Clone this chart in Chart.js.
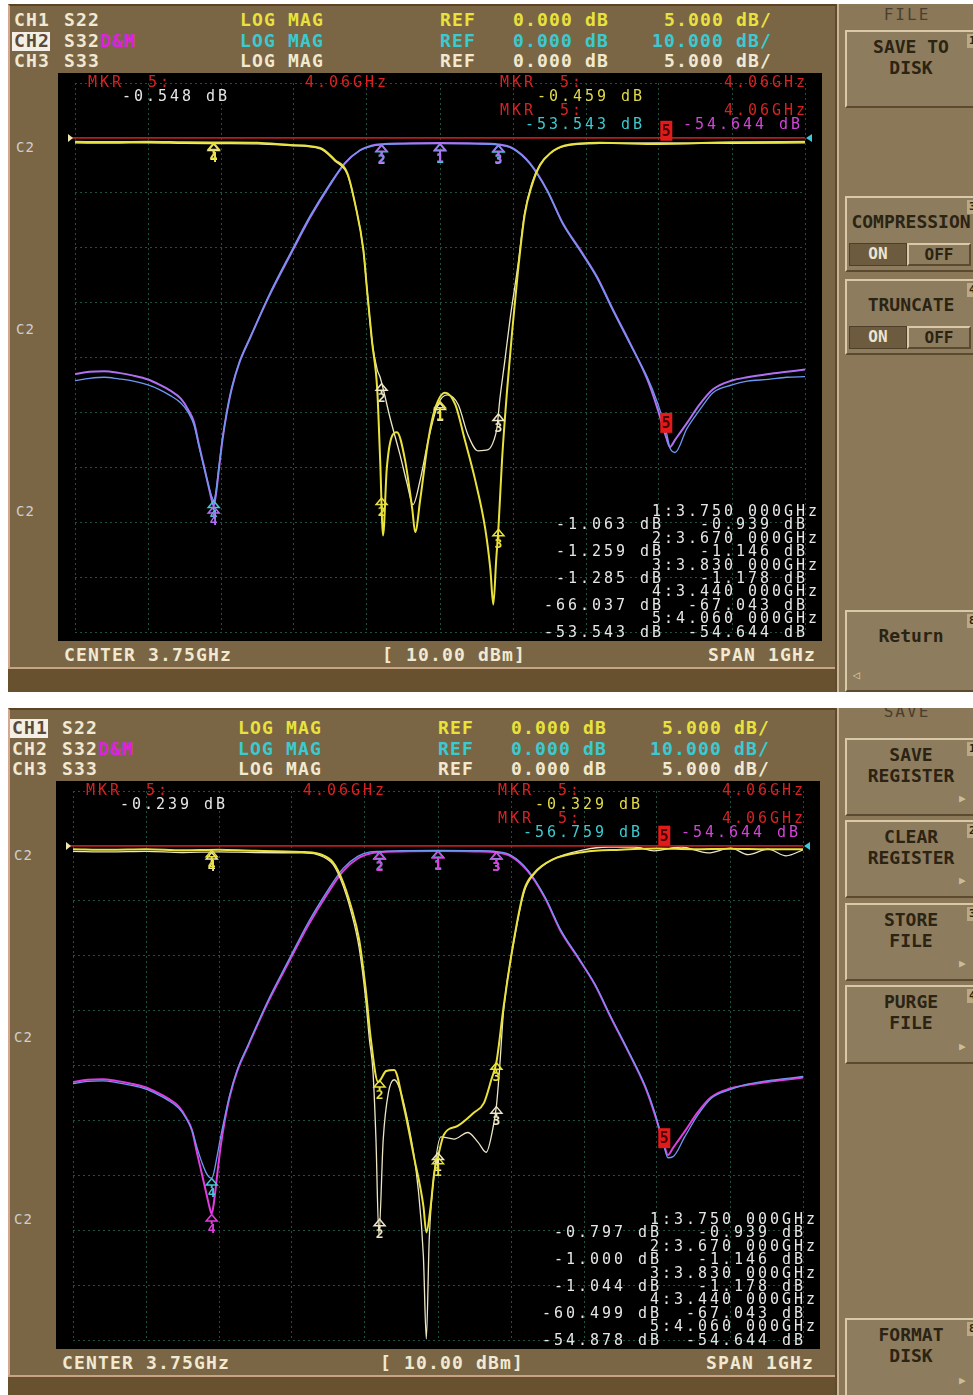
<!DOCTYPE html>
<html>
<head>
<meta charset="utf-8">
<title>S22 / S32 / S33 LOG MAG</title>
<script src="https://cdn.jsdelivr.net/npm/chart.js@4.4.1/dist/chart.umd.min.js"></script>
<style>
  body { margin: 0; width: 973px; height: 1395px; background: #fff; position: relative; overflow: hidden;
         font-family: "DejaVu Sans Mono", "Liberation Mono", monospace; }
  div { position: absolute; box-sizing: border-box; white-space: pre; }
  .frame { background: #7a6645; border-left: 2px solid #d6a690; border-top: 2px solid #5c4326; border-right: 3px solid #5e4a2e; }
  .band { background: #67512f; border-top: 2px solid #c7a484; }
  .side { background: #8a7858; border-left: 2px solid #cbb594; overflow: hidden; }
  .plot { background: #000; }
  .hdr { font-weight: bold; font-size: 18px; letter-spacing: 1.17px; line-height: 20px; }
  .ro { font-size: 15px; letter-spacing: 2.97px; line-height: 14px; }
  .c2 { font-size: 14px; letter-spacing: 1px; line-height: 14px; color: #cfcfcf; }
  .btn { background: #8d7c5d; border: 2px solid; border-color: #dac9a8 #5b4a30 #5b4a30 #dac9a8; }
  .bt { font-weight: bold; font-size: 18px; color: #2b2313; line-height: 21px; text-align: center; }
  .tog { font-weight: bold; font-size: 16px; line-height: 20px; text-align: center; }
</style>
</head>
<body>
<script>
/* Two network-analyser screens (filter S22 / S32 / S33), redrawn with Chart.js. */

// sweep and scale, as shown on screen
const CENTER_GHZ = 3.75;
const SPAN_GHZ = 1;
const X_MIN = CENTER_GHZ - SPAN_GHZ / 2;
const X_MAX = CENTER_GHZ + SPAN_GHZ / 2;
const DIVS = 10;
const REF_DIV = 9;          // ref line one division below the top
const DB_DIV_REFL = 5;      // CH1 S22, CH3 S33
const DB_DIV_TRANS = 10;    // CH2 S32

// header rows
const CH_NAMES = ['CH1', 'CH2', 'CH3'];
const CH_PARAMS = ['S22', 'S32', 'S33'];
const CH_FORMATS = ['LOG MAG', 'LOG MAG', 'LOG MAG'];
const CH_REFS = ['0.000 dB', '0.000 dB', '0.000 dB'];
const CH_SCALES = ['5.000 dB/', '10.000 dB/', '5.000 dB/'];

// markers
const MARKER_NUMS = ['1', '2', '3', '4', '5'];
const MARKER_GHZ = [3.750, 3.670, 3.830, 3.440, 4.060];
const MEM_MKR_DB = [-0.939, -1.146, -1.178, -67.043, -54.644];
const P1_DATA_MKR_DB = [-1.063, -1.259, -1.285, -66.037, -53.543];
const P2_DATA_MKR_DB = [-0.797, -1.000, -1.044, -60.499, -54.878];
const P1_MKR5_TEXT = ['-0.548 dB', '-0.459 dB', '-53.543 dB', '-54.644 dB'];
const P2_MKR5_TEXT = ['-0.239 dB', '-0.329 dB', '-56.759 dB', '-54.644 dB'];

// S32 (memory trace is the same stored trace on both screens)
const S32_GHZ = [3.250, 3.270, 3.290, 3.310, 3.330, 3.350, 3.365, 3.380, 3.395, 3.405,
  3.413, 3.420, 3.427, 3.433, 3.437, 3.440, 3.443, 3.447, 3.452, 3.458,
  3.465, 3.475, 3.490, 3.517, 3.545, 3.572, 3.599, 3.620, 3.640, 3.657,
  3.670, 3.700, 3.750, 3.800, 3.830, 3.850, 3.873, 3.897, 3.918, 3.942,
  3.965, 3.987, 4.010, 4.034, 4.047, 4.060, 4.065, 4.072, 4.088, 4.106,
  4.124, 4.150, 4.171, 4.200, 4.225, 4.250];
const S32_MEM_DB = [-43.0, -42.6, -42.5, -42.8, -43.3, -44.0, -44.9, -46.0, -47.5, -49.5,
  -51.8, -56.0, -60.0, -63.5, -65.8, -67.0, -65.0, -60.5, -55.0, -50.0,
  -45.5, -41.0, -36.4, -28.5, -21.3, -14.5, -8.6, -4.6, -2.3, -1.4,
  -1.15, -1.0, -0.94, -1.0, -1.18, -1.9, -4.6, -9.6, -15.5, -20.4,
  -25.3, -31.3, -37.3, -44.0, -48.9, -54.6, -56.3, -55.0, -52.0, -48.5,
  -45.8, -44.2, -43.6, -43.0, -42.6, -42.2];
const P1_S32_DB = [-44.2, -43.8, -43.6, -43.9, -44.3, -45.0, -45.8, -46.9, -48.3, -50.0,
  -52.3, -56.3, -60.2, -63.3, -65.2, -66.0, -64.5, -60.0, -54.8, -49.9,
  -45.4, -40.9, -36.3, -28.3, -21.0, -14.2, -8.4, -4.5, -2.3, -1.5,
  -1.26, -1.1, -1.06, -1.1, -1.29, -2.0, -4.7, -9.7, -15.6, -20.6,
  -25.5, -31.5, -37.5, -43.6, -47.9, -53.5, -56.5, -57.3, -53.0, -49.5,
  -46.4, -45.0, -44.3, -44.0, -43.6, -43.5];
const P2_S32_DB = [-43.3, -42.9, -42.8, -43.1, -43.6, -44.3, -45.2, -46.3, -47.8, -49.6,
  -51.8, -55.0, -57.8, -59.7, -60.4, -60.5, -59.5, -56.8, -53.2, -49.3,
  -45.2, -40.8, -36.2, -28.2, -20.9, -14.0, -8.1, -4.1, -1.9, -1.1,
  -1.0, -0.85, -0.8, -0.86, -1.04, -1.7, -4.4, -9.4, -15.3, -20.3,
  -25.2, -31.2, -37.2, -43.8, -48.6, -54.9, -56.8, -56.6, -53.0, -49.0,
  -46.0, -44.4, -43.5, -42.8, -42.4, -42.0];

// screen 1 reflection traces
const P1_S22_GHZ = [3.250, 3.300, 3.350, 3.400, 3.450, 3.500, 3.545, 3.586, 3.606, 3.623,
  3.634, 3.645, 3.650, 3.657, 3.664, 3.668, 3.672, 3.677, 3.684, 3.691,
  3.702, 3.712, 3.716, 3.723, 3.734, 3.743, 3.757, 3.771, 3.784, 3.798,
  3.812, 3.819, 3.823, 3.827, 3.830, 3.835, 3.842, 3.849, 3.857, 3.866,
  3.876, 3.887, 3.901, 3.921, 3.969, 4.050, 4.150, 4.250];
const P1_S22_DB = [-0.35, -0.38, -0.36, -0.40, -0.42, -0.45, -0.64, -0.91, -2.0, -3.2,
  -6.1, -10.2, -13.8, -18.6, -22.9, -29.3, -36.2, -30.2, -27.2, -26.8,
  -29.3, -33.8, -35.9, -32.9, -27.5, -24.7, -23.2, -24.3, -27.5, -31.1,
  -35.6, -39.3, -42.5, -38.4, -35.6, -29.3, -22.9, -17.5, -12.0, -7.0,
  -4.3, -2.5, -1.4, -0.7, -0.45, -0.55, -0.40, -0.36];
const P1_S33_GHZ = [3.250, 3.300, 3.350, 3.400, 3.450, 3.500, 3.545, 3.586, 3.606, 3.623,
  3.634, 3.645, 3.650, 3.657, 3.664, 3.668, 3.682, 3.695, 3.705, 3.713,
  3.723, 3.734, 3.747, 3.760, 3.775, 3.788, 3.802, 3.816, 3.824, 3.828,
  3.832, 3.839, 3.846, 3.857, 3.866, 3.876, 3.887, 3.901, 3.921, 3.969,
  4.050, 4.150, 4.250];
const P1_S33_DB = [-0.45, -0.48, -0.44, -0.50, -0.52, -0.55, -0.70, -1.0, -2.1, -3.3,
  -6.1, -10.2, -13.8, -18.6, -21.1, -21.8, -25.6, -28.8, -31.5, -33.4,
  -31.1, -27.5, -24.3, -23.4, -24.3, -27.0, -28.5, -28.4, -27.5, -26.4,
  -23.8, -20.2, -16.5, -11.5, -6.8, -4.1, -2.4, -1.4, -0.75, -0.5,
  -0.46, -0.5, -0.45];

// screen 2 reflection traces
const P2_S22_GHZ = [3.250, 3.300, 3.350, 3.400, 3.450, 3.500, 3.562, 3.603, 3.617, 3.631,
  3.642, 3.651, 3.658, 3.668, 3.679, 3.690, 3.703, 3.717, 3.730, 3.734,
  3.740, 3.745, 3.750, 3.758, 3.777, 3.799, 3.813, 3.823, 3.830, 3.840,
  3.854, 3.868, 3.882, 3.906, 3.950, 4.000, 4.050, 4.100, 4.150, 4.200,
  4.250];
const P2_S22_DB = [-0.3, -0.35, -0.3, -0.4, -0.35, -0.45, -0.55, -1.27, -2.82, -5.55,
  -8.55, -13.1, -17.6, -21.5, -20.5, -20.4, -23.7, -28.3, -32.8, -35.2,
  -32.8, -29.7, -28.3, -26.3, -25.5, -24.3, -23.4, -21.3, -19.7, -14.6,
  -8.55, -4.0, -2.45, -1.27, -0.55, -0.35, -0.24, -0.3, -0.25, -0.3,
  -0.3];
const P2_S33_GHZ = [3.250, 3.300, 3.350, 3.400, 3.450, 3.500, 3.562, 3.603, 3.617, 3.631,
  3.642, 3.651, 3.656, 3.661, 3.665, 3.669, 3.675, 3.682, 3.690, 3.709,
  3.723, 3.730, 3.734, 3.738, 3.745, 3.754, 3.772, 3.791, 3.805, 3.816,
  3.825, 3.830, 3.834, 3.840, 3.854, 3.868, 3.882, 3.906, 3.950, 3.983,
  4.019, 4.046, 4.083, 4.120, 4.151, 4.175, 4.202, 4.227, 4.250];
const P2_S33_DB = [-0.5, -0.55, -0.5, -0.6, -0.55, -0.6, -0.64, -1.45, -3.1, -6.0,
  -9.3, -14.0, -17.6, -20.6, -26.7, -35.4, -26.7, -22.5, -21.3, -25.2,
  -31.3, -37.4, -44.9, -35.8, -29.7, -26.5, -26.7, -26.1, -27.0, -27.9,
  -25.8, -23.7, -20.6, -14.9, -8.7, -4.2, -2.55, -1.27, -0.36, -0.1,
  -0.1, -0.45, -0.1, -0.64, -0.2, -0.8, -0.3, -0.9, -0.36];

const P1_SOFTKEYS = [
  { y: 30, h: 78, lines: ['SAVE TO', 'DISK'], tag: '1' },
  { y: 196, h: 76, lines: ['COMPRESSION'], tag: '3', toggle: true },
  { y: 279, h: 76, lines: ['TRUNCATE'], tag: '4', toggle: true },
  { y: 610, h: 82, lines: ['Return'], tag: '8', back: true },
];
const P2_SOFTKEYS = [
  { y: 738, h: 78, lines: ['SAVE', 'REGISTER'], tag: '1', more: true },
  { y: 820, h: 78, lines: ['CLEAR', 'REGISTER'], tag: '2', more: true },
  { y: 903, h: 78, lines: ['STORE', 'FILE'], tag: '3', more: true },
  { y: 985, h: 79, lines: ['PURGE', 'FILE'], tag: '4', more: true },
  { y: 1318, h: 80, lines: ['FORMAT', 'DISK'], tag: '8', more: true },
];

const COL = {
  s22: '#e9e23c', s33: '#ece6c4', data: '#6c98f2', mem: '#d444e4',
  cyanTxt: '#3ccad2', red: '#d62222', cream: '#f1e9d2', grid: '#1f4f3e',
};

const PANELS = [
  { dy: 0, dx: 0, top: 4, h: 688, active: 1, title: 'FILE', mkr5: P1_MKR5_TEXT,
    s22: [P1_S22_GHZ, P1_S22_DB], s33: [P1_S33_GHZ, P1_S33_DB], data: P1_S32_DB,
    dataMkr: P1_DATA_MKR_DB, memCol: '#b070f4', keys: P1_SOFTKEYS },
  { dy: 708, dx: -2, top: 708, h: 687, active: 0, title: 'SAVE', mkr5: P2_MKR5_TEXT,
    s22: [P2_S22_GHZ, P2_S22_DB], s33: [P2_S33_GHZ, P2_S33_DB], data: P2_S32_DB,
    dataMkr: P2_DATA_MKR_DB, memCol: '#e23ce0', keys: P2_SOFTKEYS },
];

function el(cls, x, y, w, h, parent) {
  const d = document.createElement('div');
  if (cls) d.className = cls;
  d.style.left = x + 'px';
  d.style.top = y + 'px';
  if (w != null) d.style.width = w + 'px';
  if (h != null) d.style.height = h + 'px';
  (parent || document.body).appendChild(d);
  return d;
}

function txt(cls, x, yc, s, color, lh, right) {
  const d = el(cls, x, yc - lh / 2);
  d.textContent = s;
  d.style.color = color;
  if (right) { d.style.left = ''; d.style.right = (973 - x) + 'px'; }
  return d;
}

function interp(xs, ys, x) {
  for (let i = 1; i < xs.length; i++) {
    if (x <= xs[i]) {
      const t = (x - xs[i - 1]) / (xs[i] - xs[i - 1]);
      return ys[i - 1] + t * (ys[i] - ys[i - 1]);
    }
  }
  return ys[ys.length - 1];
}

function divTicks(scale) {
  const ticks = [];
  for (let i = 0; i <= DIVS; i++) ticks.push({ value: scale.min + i * (scale.max - scale.min) / DIVS });
  scale.ticks = ticks;
}

function drawMarker(ctx, x, y, label, color) {
  ctx.strokeStyle = color;
  ctx.fillStyle = color;
  ctx.lineWidth = 1.5;
  ctx.beginPath();
  ctx.moveTo(x, y + 0.5);
  ctx.lineTo(x + 5.5, y + 7);
  ctx.lineTo(x - 5.5, y + 7);
  ctx.closePath();
  ctx.stroke();
  ctx.fillRect(x - 1, y + 7, 2, 3);
  ctx.font = 'bold 13px "DejaVu Sans Mono"';
  ctx.textAlign = 'center';
  ctx.textBaseline = 'top';
  ctx.fillText(label, x, y + 9);
}

function drawActive(ctx, x, y, label) {
  ctx.fillStyle = '#e21a1a';
  ctx.fillRect(x - 6, y - 21, 12, 20);
  ctx.fillStyle = '#4a0000';
  ctx.font = 'bold 15px "DejaVu Sans Mono"';
  ctx.textAlign = 'center';
  ctx.textBaseline = 'middle';
  ctx.fillText(label, x, y - 10);
}

function decorPlugin(p) {
  return {
    id: 'vnaDecor',
    afterDatasetsDraw(chart) {
      const { ctx, chartArea: a } = chart;
      const sx = chart.scales.x, sy = chart.scales.y, sy2 = chart.scales.y2;
      const yRef = sy.getPixelForValue(0);
      ctx.save();
      ctx.strokeStyle = '#b81c1c';
      ctx.lineWidth = 1.6;
      ctx.beginPath();
      ctx.moveTo(a.left - 3, yRef);
      ctx.lineTo(a.right, yRef);
      ctx.stroke();
      // reference position arrows
      ctx.fillStyle = '#ece6b0';
      ctx.beginPath();
      ctx.moveTo(a.left - 7, yRef - 4); ctx.lineTo(a.left - 2, yRef); ctx.lineTo(a.left - 7, yRef + 4);
      ctx.closePath(); ctx.fill();
      ctx.fillStyle = '#3cc8d8';
      ctx.beginPath();
      ctx.moveTo(a.right + 7, yRef - 4); ctx.lineTo(a.right + 1, yRef); ctx.lineTo(a.right + 7, yRef + 4);
      ctx.closePath(); ctx.fill();

      for (let i = 0; i < 4; i++) {
        const px = sx.getPixelForValue(MARKER_GHZ[i]);
        drawMarker(ctx, px, sy2.getPixelForValue(p.dataMkr[i]), MARKER_NUMS[i], '#48c6d8');
        drawMarker(ctx, px, sy2.getPixelForValue(MEM_MKR_DB[i]), MARKER_NUMS[i], p.memCol);
        drawMarker(ctx, px, sy.getPixelForValue(interp(p.s33[0], p.s33[1], MARKER_GHZ[i])), MARKER_NUMS[i], COL.s33);
        drawMarker(ctx, px, sy.getPixelForValue(interp(p.s22[0], p.s22[1], MARKER_GHZ[i])), MARKER_NUMS[i], COL.s22);
      }
      const x5 = sx.getPixelForValue(MARKER_GHZ[4]);
      drawActive(ctx, x5, sy.getPixelForValue(interp(p.s22[0], p.s22[1], MARKER_GHZ[4])) - 2, MARKER_NUMS[4]);
      drawActive(ctx, x5, sy2.getPixelForValue(p.dataMkr[4]) + 2, MARKER_NUMS[4]);
      ctx.restore();
    },
  };
}

function pts(xs, ys) {
  return xs.map((f, i) => ({ x: f, y: ys[i] }));
}

function buildPanel(p) {
  const dy = p.dy, dx = p.dx;
  // main frame
  el('frame', 8, p.top, 830, p.h);
  el('band', 8, 667 + dy, 827, 25);
  // header rows
  const rowCol = [COL.s22, COL.cyanTxt, COL.cream];
  for (let r = 0; r < 3; r++) {
    const yc = 20 + r * 20.5 + dy;
    if (r === p.active) {
      const hl = el('', 12 + dx, yc - 9, 38, 19);
      hl.style.background = '#f3efe6';
      txt('hdr', 14 + dx, yc, CH_NAMES[r], '#5a4838', 20);
    } else {
      txt('hdr', 14 + dx, yc, CH_NAMES[r], COL.cream, 20);
    }
    txt('hdr', 64 + dx, yc, CH_PARAMS[r], COL.cream, 20);
    if (r === 1) txt('hdr', 100 + dx, yc, 'D&M', '#e020e4', 20);
    txt('hdr', 240 + dx, yc, CH_FORMATS[r], rowCol[r], 20);
    txt('hdr', 440 + dx, yc, 'REF', rowCol[r], 20);
    txt('hdr', 513 + dx, yc, CH_REFS[r], rowCol[r], 20);
    txt('hdr', 772 + dx, yc, CH_SCALES[r], rowCol[r], 20, true);
  }
  // scale labels at left
  [147, 329, 511].forEach(y => txt('c2', 16 + dx, y + dy, 'C2', '#cfcfcf', 14));
  // plot area + chart
  el('plot', 58 + dx, 73 + dy, 764, 568);
  const cv = document.createElement('canvas');
  cv.width = 764; cv.height = 568;
  cv.style.cssText = `position:absolute;left:${58 + dx}px;top:${73 + dy}px;width:764px;height:568px`;
  document.body.appendChild(cv);

  const gridScale = {
    type: 'linear',
    afterBuildTicks: divTicks,
    grid: { color: COL.grid, lineWidth: 1, drawTicks: false },
    border: { display: false, dash: [2, 3] },
    ticks: { display: false },
  };
  new Chart(cv, {
    type: 'line',
    data: {
      datasets: [
        { label: 'S22', data: pts(p.s22[0], p.s22[1]), yAxisID: 'y', borderColor: COL.s22, borderWidth: 2, order: 1 },
        { label: 'S33', data: pts(p.s33[0], p.s33[1]), yAxisID: 'y', borderColor: COL.s33, borderWidth: 1.3, order: 2 },
        { label: 'S32', data: pts(S32_GHZ, p.data), yAxisID: 'y2', borderColor: COL.data, borderWidth: 1.3, order: 3 },
        { label: 'S32 MEM', data: pts(S32_GHZ, S32_MEM_DB), yAxisID: 'y2', borderColor: p.memCol, borderWidth: 2, order: 4 },
      ],
    },
    options: {
      responsive: false,
      animation: false,
      layout: { padding: { left: 17, right: 17, top: 10, bottom: 9 } },
      elements: { point: { radius: 0 }, line: { cubicInterpolationMode: 'monotone' } },
      plugins: { legend: { display: false }, tooltip: { enabled: false } },
      scales: {
        x: Object.assign({}, gridScale, { min: X_MIN, max: X_MAX }),
        y: Object.assign({}, gridScale, {
          min: -REF_DIV * DB_DIV_REFL, max: (DIVS - REF_DIV) * DB_DIV_REFL }),
        y2: { type: 'linear', display: false,
          min: -REF_DIV * DB_DIV_TRANS, max: (DIVS - REF_DIV) * DB_DIV_TRANS },
      },
    },
    plugins: [decorPlugin(p)],
  });

  // marker 5 readouts
  txt('ro', 88 + dx, 82 + dy, 'MKR  5:', COL.red, 14);
  txt('ro', 305 + dx, 82 + dy, MARKER_GHZ[4].toFixed(2) + 'GHz', COL.red, 14);
  txt('ro', 122 + dx, 96 + dy, p.mkr5[0], '#e6e6e6', 14);
  txt('ro', 500 + dx, 82 + dy, 'MKR  5:', COL.red, 14);
  txt('ro', 808 + dx, 82 + dy, MARKER_GHZ[4].toFixed(2) + 'GHz', COL.red, 14, true);
  txt('ro', 537 + dx, 96 + dy, p.mkr5[1], '#e2da48', 14);
  txt('ro', 500 + dx, 110 + dy, 'MKR  5:', COL.red, 14);
  txt('ro', 808 + dx, 110 + dy, MARKER_GHZ[4].toFixed(2) + 'GHz', COL.red, 14, true);
  txt('ro', 525 + dx, 124 + dy, p.mkr5[2], COL.cyanTxt, 14);
  txt('ro', 683 + dx, 124 + dy, p.mkr5[3], '#d444d8', 14);

  // marker table
  for (let i = 0; i < 5; i++) {
    const y0 = 511 + i * 26.8 + dy;
    txt('ro', 820 + dx, y0, `${MARKER_NUMS[i]}:${MARKER_GHZ[i].toFixed(3)} 000GHz`, '#e6e6e6', 14, true);
    const line = p.dataMkr[i].toFixed(3).padStart(7) + ' dB  ' + MEM_MKR_DB[i].toFixed(3).padStart(7) + ' dB';
    txt('ro', 808 + dx, y0 + 13.4, line, '#e6e6e6', 14, true);
  }

  // footer
  txt('hdr', 64 + dx, 655 + dy, 'CENTER ' + CENTER_GHZ + 'GHz', COL.cream, 20);
  txt('hdr', 382 + dx, 655 + dy, '[ 10.00 dBm]', COL.cream, 20);
  txt('hdr', 816 + dx, 655 + dy, 'SPAN ' + SPAN_GHZ + 'GHz', COL.cream, 20, true);

  // softkey column
  const side = el('side', 837, p.top, 136, p.h);
  const t = el('', 0, 0, 136, 20, side);
  t.textContent = p.title;
  t.style.cssText += `top:${(p.dy ? -6 : 1)}px;text-align:center;font-size:16px;letter-spacing:2px;color:#4a3f2e;line-height:20px`;
  p.keys.forEach(k => {
    const b = el('btn', 6, k.y - p.top, 140, k.h, side);
    const tag = el('', 120, 2, 12, 14, b);
    tag.textContent = k.tag;
    tag.style.cssText += 'background:#b9a987;color:#2b2313;font-size:11px;font-weight:bold;line-height:14px;padding-left:2px';
    if (k.lines.length === 2) {
      const l1 = el('bt', -2, 4, 132, 21, b); l1.textContent = k.lines[0];
      const l2 = el('bt', -2, 25, 132, 21, b); l2.textContent = k.lines[1];
    } else {
      const l1 = el('bt', -2, 13, 132, 21, b); l1.textContent = k.lines[0];
    }
    if (k.toggle) {
      const on = el('tog', 2, 45, 58, 23, b);
      on.textContent = 'ON';
      on.style.cssText += 'background:#6d5b3f;color:#ece4d2;border:1px solid #4e3f28';
      const off = el('tog', 60, 45, 64, 23, b);
      off.textContent = 'OFF';
      off.style.cssText += 'color:#2b2313;border:2px solid;border-color:#dac9a8 #5b4a30 #5b4a30 #dac9a8';
    }
    if (k.more) {
      const a = el('', 112, k.h - 26, 14, 14, b);
      a.textContent = '\u25B6';
      a.style.cssText += 'color:#cbbb9b;font-size:11px;line-height:14px';
    }
    if (k.back) {
      const a = el('', 6, k.h - 26, 14, 14, b);
      a.textContent = '\u25C1';
      a.style.cssText += 'color:#d8c8a8;font-size:12px;line-height:14px';
    }
  });
}

PANELS.forEach(buildPanel);
</script>
</body>
</html>
